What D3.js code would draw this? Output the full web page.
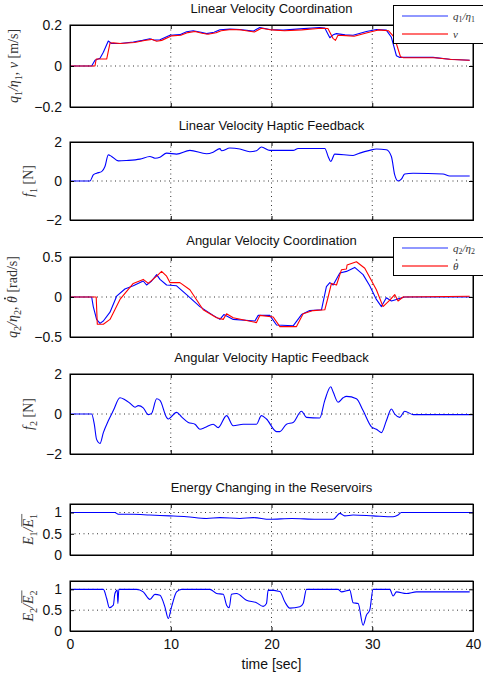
<!DOCTYPE html>
<html>
<head>
<meta charset="utf-8">
<script src="https://cdn.jsdelivr.net/npm/d3@7"></script>
<style>
  body { margin: 0; background: #fff; }
  svg { display: block; }
</style>
</head>
<body>
<svg id="chart" width="483" height="681"></svg>
<script>
// time samples [sec, value] for every trace
const timeTicks = [0, 10, 20, 30, 40];

const q1Eta1 = [[0,0],[2.15,0],[2.48,0.028],[2.98,0.038],[3.31,0.067],[3.8,0.122],[4.13,0.11],[4.96,0.11],[6.28,0.117],[7.2,0.125],[7.93,0.133],[8.4,0.126],[8.93,0.128],[9.92,0.15],[10.9,0.153],[11.57,0.167],[12.23,0.172],[13.0,0.165],[13.55,0.158],[14.3,0.165],[14.88,0.177],[15.87,0.18],[16.86,0.178],[18.18,0.17],[18.84,0.188],[19.83,0.178],[21.16,0.175],[22.81,0.181],[24.79,0.188],[25.29,0.185],[25.79,0.138],[26.12,0.152],[26.45,0.158],[27.3,0.152],[28.1,0.15],[29.42,0.168],[30.41,0.178],[31.4,0.175],[31.9,0.14],[32.4,0.05],[32.73,0.042],[36.03,0.042],[37.69,0.033],[39.67,0.028]];

const nu = [[0,0],[2.48,0],[2.6,0.034],[3.64,0.034],[3.97,0.112],[4.3,0.113],[5.0,0.11],[6.4,0.115],[7.4,0.124],[8.1,0.13],[8.6,0.121],[9.1,0.125],[10.1,0.147],[11.0,0.15],[11.7,0.163],[12.4,0.168],[13.1,0.16],[13.7,0.155],[14.5,0.162],[15.0,0.172],[16.0,0.178],[17.0,0.176],[18.3,0.166],[19.0,0.184],[20.0,0.176],[21.3,0.172],[23.0,0.176],[24.9,0.184],[25.6,0.183],[26.1,0.135],[26.35,0.125],[26.6,0.15],[27.4,0.148],[28.2,0.145],[29.6,0.163],[30.6,0.176],[31.6,0.172],[32.2,0.14],[32.8,0.045],[33.1,0.04],[36.2,0.04],[37.9,0.032],[39.67,0.028]];

const f1 = [[0,0],[1.98,0],[2.31,0.31],[2.64,0.4],[3.14,0.48],[3.47,0.74],[3.8,1.34],[4.13,1.26],[4.79,1.03],[5.62,1.05],[6.94,1.12],[7.93,1.26],[8.43,1.17],[8.93,1.22],[9.59,1.43],[10.58,1.38],[11.9,1.57],[13.55,1.4],[14.21,1.48],[14.88,1.66],[15.05,1.55],[15.87,1.69],[16.86,1.64],[17.85,1.5],[18.51,1.55],[19.0,1.74],[19.83,1.57],[21.16,1.57],[22.15,1.57],[22.64,1.67],[25.29,1.67],[25.62,1.26],[25.88,1.0],[26.28,1.38],[28.1,1.31],[28.76,1.43],[29.75,1.57],[30.41,1.64],[31.4,1.6],[31.9,1.26],[32.23,0.31],[32.56,0],[32.89,0.09],[33.22,0.36],[34.05,0.4],[37.02,0.36],[37.69,0.26],[39.67,0.26]];

const q2Eta2 = [[0,0],[2.15,0],[2.31,-0.12],[2.64,-0.28],[2.98,-0.33],[3.31,-0.3],[3.97,-0.19],[4.63,0.01],[5.45,0.1],[6.28,0.14],[7.27,0.2],[7.6,0.15],[8.1,0.2],[8.6,0.28],[8.93,0.22],[9.59,0.15],[10.58,0.14],[11.57,0.03],[12.89,-0.12],[14.21,-0.23],[14.88,-0.28],[15.27,-0.22],[16.2,-0.28],[18.35,-0.3],[18.68,-0.23],[19.83,-0.23],[20.5,-0.35],[22.15,-0.36],[22.98,-0.22],[23.8,-0.17],[24.96,-0.16],[25.45,0.13],[25.79,0.18],[26.12,0.15],[26.78,0.3],[27.44,0.32],[28.26,0.37],[29.09,0.28],[29.75,0.14],[30.41,-0.03],[30.91,-0.12],[31.4,-0.01],[31.9,-0.05],[32.4,-0.03],[33.22,0],[39.67,0]];

const thetaDot = [[0,0],[2.6,0],[2.71,-0.34],[3.31,-0.34],[3.97,-0.28],[4.96,-0.03],[5.62,0.07],[6.28,0.17],[7.27,0.22],[7.77,0.17],[8.6,0.26],[9.09,0.32],[9.59,0.26],[9.92,0.18],[10.91,0.18],[11.9,0.09],[13.22,-0.16],[14.55,-0.26],[15.21,-0.28],[15.54,-0.21],[16.2,-0.26],[18.51,-0.32],[18.84,-0.23],[20.17,-0.25],[20.83,-0.37],[22.48,-0.37],[23.14,-0.21],[24.13,-0.17],[25.29,-0.16],[25.62,0],[25.95,0.17],[26.45,0.15],[26.94,0.34],[27.44,0.35],[27.5,0.4],[28.43,0.44],[29.26,0.36],[30.41,0.09],[31.07,-0.12],[31.74,-0.04],[32.23,0.03],[32.56,-0.05],[33.06,0],[39.67,0.01]];

const f2 = [[0,0],[2.15,0],[2.41,-0.51],[2.64,-1.27],[2.98,-1.47],[3.31,-0.93],[3.8,-0.34],[4.3,0.17],[4.96,0.81],[5.45,0.71],[5.95,0.54],[6.45,0.34],[6.78,0.42],[7.27,0.31],[7.77,-0.03],[8.1,0.03],[8.6,0.76],[8.93,0.68],[9.59,-0.17],[9.75,-0.25],[10.58,0.08],[11.07,-0.14],[11.74,-0.42],[12.4,-0.51],[12.89,-0.76],[13.39,-0.68],[14.21,-0.51],[14.71,-0.68],[15.54,-0.08],[16.2,-0.59],[17.19,-0.51],[18.51,-0.51],[19.0,-0.08],[19.5,-0.25],[20.5,-0.88],[20.83,-0.88],[21.49,-0.51],[22.15,-0.42],[22.98,0.14],[23.47,-0.17],[24.79,-0.2],[25.29,0.68],[25.88,1.36],[26.12,1.1],[26.61,0.59],[27.11,0.81],[27.44,0.88],[28.43,0.76],[29.09,0.17],[29.92,-0.64],[30.41,-0.76],[30.91,-0.93],[31.4,-0.34],[31.9,0.25],[32.23,0],[32.73,-0.17],[33.22,0.14],[34.05,-0.03],[40,-0.03]];

const e1Ratio = [[0,1],[4.46,1],[4.79,0.96],[6.28,0.96],[7.93,0.94],[9.92,0.92],[11.57,0.9],[13.55,0.86],[14.88,0.88],[16.86,0.86],[18.18,0.88],[19.83,0.84],[22.0,0.86],[24.46,0.84],[26.12,0.84],[26.78,0.98],[27.27,0.92],[28.1,0.94],[30.08,0.92],[32.07,0.9],[32.56,0.94],[32.89,1],[40,1]];

const e2Ratio = [[0,1],[3.31,1],[3.64,0.78],[3.9,0.56],[4.3,0.62],[4.46,0.9],[4.69,0.98],[4.75,0.66],[4.85,1],[6.61,1],[7.27,0.94],[7.93,0.76],[8.43,0.88],[8.93,0.86],[9.42,0.58],[9.75,0.3],[10.08,0.58],[10.58,0.94],[11.07,1],[13.88,1],[14.55,0.9],[15.21,0.88],[15.54,0.62],[15.8,0.56],[16.03,0.88],[16.53,0.9],[17.52,0.74],[18.51,0.68],[19.17,0.59],[19.5,0.66],[19.67,0.98],[20.83,0.95],[21.32,0.7],[21.82,0.55],[22.81,0.58],[23.14,0.66],[23.47,1],[26.61,1],[26.94,0.94],[27.77,0.98],[28.1,0.68],[28.6,0.66],[29.09,0.14],[29.42,0.38],[29.75,0.5],[30.08,1],[31.74,1],[32.07,0.84],[32.4,0.94],[33.39,0.9],[34.38,0.94],[39.67,0.94]];

const left = 70, right = 473;
const svg = d3.select("#chart");

const x = d3.scaleLinear().domain([0, 40]).range([left, right]);

// label pieces: [text, kind] with kind "i" italic, "r" roman, "s" subscript,
// "d" dotted italic, "o" overlined italic, "os" overlined subscript
const panels = [
  { title: "Linear Velocity Coordination", top: 25, bottom: 107, domain: [-0.2, 0.2], ticks: [-0.2, 0, 0.2],
    labelX: 18,
    label: [["q","i"],["1","s"],["/η","i"],["1","s"],[", ν ","i"],["[m/s]","r"]],
    series: [{ data: q1Eta1, color: "#0000ff" }, { data: nu, color: "#ff0000" }],
    legend: { y: 5, items: [[["q","i"],["1","s"],["/η","i"],["1","s"]], [["ν","i"]]] } },
  { title: "Linear Velocity Haptic Feedback", top: 142, bottom: 220, domain: [-2, 2], ticks: [-2, 0, 2],
    labelX: 33, smooth: true,
    label: [["f","i"],["1","s"],[" [N]","r"]],
    series: [{ data: f1, color: "#0000ff" }] },
  { title: "Angular Velocity Coordination", top: 257, bottom: 337, domain: [-0.5, 0.5], ticks: [-0.5, 0, 0.5],
    labelX: 17,
    label: [["q","i"],["2","s"],["/η","i"],["2","s"],[", ","i"],["θ","d"],[" ","i"],["[rad/s]","r"]],
    series: [{ data: q2Eta2, color: "#0000ff" }, { data: thetaDot, color: "#ff0000" }],
    legend: { y: 237, items: [[["q","i"],["2","s"],["/η","i"],["2","s"]], [["θ","d"]]] } },
  { title: "Angular Velocity Haptic Feedback", top: 374, bottom: 454, domain: [-2, 2], ticks: [-2, 0, 2],
    labelX: 33, smooth: true,
    label: [["f","i"],["2","s"],[" [N]","r"]],
    series: [{ data: f2, color: "#0000ff" }] },
  { title: "Energy Changing in the Reservoirs", top: 504, bottom: 555, domain: [0, 1.2], ticks: [0, 0.5, 1],
    labelX: 33, smooth: true,
    label: [["E","i"],["1","s"],["/","i"],["E","o"],["1","os"]],
    series: [{ data: e1Ratio, color: "#0000ff" }] },
  { title: null, top: 581, bottom: 631, domain: [0, 1.2], ticks: [0, 0.5, 1],
    labelX: 33, smooth: true,
    label: [["E","i"],["2","s"],["/","i"],["E","o"],["2","os"]],
    series: [{ data: e2Ratio, color: "#0000ff" }], xLabels: true }
];

const fmt = (v) => (v < 0 ? "\u2212" : "") + Math.abs(v);

// writes math-like text into a <text> inside group g, then adds dots and overlines
function mathText(g, text, parts, size) {
  let shifted = false;
  const marks = [];
  parts.forEach(([t, kind]) => {
    const sp = text.append("tspan").text(t);
    const sub = kind === "s" || kind === "os";
    if (sub && !shifted) { sp.attr("dy", size * 0.25); shifted = true; }
    else if (!sub && shifted) { sp.attr("dy", -size * 0.25); shifted = false; }
    sp.attr("font-size", sub ? size * 0.72 : size)
      .attr("font-style", kind === "r" || sub ? "normal" : "italic");
    if (kind === "d" || kind === "o" || kind === "os") marks.push([sp.node(), kind]);
  });
  let ox0 = Infinity, ox1 = -Infinity, oy = null;
  marks.forEach(([node, kind]) => {
    const n = node.getNumberOfChars();
    const a = node.getStartPositionOfChar(0);
    const b = node.getEndPositionOfChar(n - 1);
    if (kind === "d") {
      g.append("circle").attr("cx", (a.x + b.x) / 2 + size * 0.08).attr("cy", a.y - size * 0.86)
        .attr("r", size * 0.075).attr("fill", text.attr("fill"));
    } else {
      ox0 = Math.min(ox0, a.x); ox1 = Math.max(ox1, b.x);
      if (kind === "o") oy = a.y - size * 0.8;
    }
  });
  if (oy !== null) {
    g.append("line").attr("x1", ox0 + 1).attr("x2", ox1).attr("y1", oy).attr("y2", oy)
      .attr("stroke", text.attr("fill")).attr("stroke-width", 0.8);
  }
}

panels.forEach((p) => {
  const y = d3.scaleLinear().domain(p.domain).range([p.bottom, p.top]);
  const g = svg.append("g");

  // dotted grid
  g.selectAll(".vgrid").data(timeTicks.slice(1, -1)).join("line")
    .attr("x1", (d) => x(d)).attr("x2", (d) => x(d))
    .attr("y1", p.top).attr("y2", p.bottom)
    .attr("stroke", "#000").attr("stroke-width", 0.8).attr("stroke-dasharray", "1,3.5");
  g.selectAll(".hgrid").data(p.ticks.filter((t) => y(t) > p.top + 1 && y(t) < p.bottom - 1)).join("line")
    .attr("x1", left).attr("x2", right)
    .attr("y1", (d) => y(d)).attr("y2", (d) => y(d))
    .attr("stroke", "#000").attr("stroke-width", 0.8).attr("stroke-dasharray", "1,3.5");

  // traces
  const line = d3.line().x((d) => x(d[0])).y((d) => y(d[1]))
    .curve(p.smooth ? d3.curveMonotoneX : d3.curveLinear);
  p.series.forEach((s) => {
    g.append("path").datum(s.data)
      .attr("d", line).attr("fill", "none")
      .attr("stroke", s.color).attr("stroke-width", 1.1)
      .attr("stroke-linejoin", "round");
  });

  // axes with inward ticks on all sides
  g.append("g").attr("transform", `translate(${left},0)`)
    .call(d3.axisLeft(y).tickValues(p.ticks).tickSize(-4).tickPadding(8).tickFormat(fmt));
  g.append("g").attr("transform", `translate(${right},0)`)
    .call(d3.axisRight(y).tickValues(p.ticks).tickSize(-4).tickFormat(""));
  g.append("g").attr("transform", `translate(0,${p.top})`)
    .call(d3.axisTop(x).tickValues(timeTicks).tickSize(-4).tickFormat(""));
  g.append("g").attr("transform", `translate(0,${p.bottom})`)
    .call(d3.axisBottom(x).tickValues(timeTicks).tickSize(-4).tickPadding(8)
      .tickFormat(p.xLabels ? (d) => d : ""));
  g.selectAll(".domain").attr("stroke", "#000");
  g.selectAll(".tick line").attr("stroke", "#000");
  g.selectAll(".tick text").attr("font-family", "Liberation Sans, Arial, sans-serif")
    .attr("font-size", 14).attr("fill", "#111");

  g.append("rect").attr("x", left).attr("y", p.top)
    .attr("width", right - left).attr("height", p.bottom - p.top)
    .attr("fill", "none").attr("stroke", "#000").attr("stroke-width", 1);

  if (p.title) {
    svg.append("text").attr("x", (left + right) / 2).attr("y", p.top - 12)
      .attr("text-anchor", "middle")
      .attr("font-family", "Liberation Sans, Arial, sans-serif")
      .attr("font-size", 13).attr("fill", "#111").text(p.title);
  }

  const labG = svg.append("g")
    .attr("transform", `translate(${p.labelX},${(p.top + p.bottom) / 2}) rotate(-90)`);
  const lab = labG.append("text")
    .attr("text-anchor", "middle")
    .attr("font-family", "Liberation Serif, DejaVu Serif, serif")
    .attr("fill", "#333");
  mathText(labG, lab, p.label, 14);

  if (p.legend) {
    const lg = svg.append("g");
    lg.append("rect").attr("x", 393.5).attr("y", p.legend.y + 0.5)
      .attr("width", 100).attr("height", 38)
      .attr("fill", "#fff").attr("stroke", "#000").attr("stroke-width", 1);
    p.legend.items.forEach((parts, i) => {
      const ly = p.legend.y + 11 + i * 18;
      lg.append("line").attr("x1", 402).attr("x2", 448).attr("y1", ly).attr("y2", ly)
        .attr("stroke", i === 0 ? "#2233ff" : "#ff6f6f").attr("stroke-width", i === 0 ? 1.2 : 1.8);
      const t = lg.append("text").attr("x", 453).attr("y", ly + 3.5)
        .attr("font-family", "Liberation Serif, DejaVu Serif, serif").attr("fill", "#333");
      mathText(lg, t, parts, 11);
    });
  }
});

svg.append("text").attr("x", (left + right) / 2).attr("y", 669)
  .attr("text-anchor", "middle")
  .attr("font-family", "Liberation Sans, Arial, sans-serif")
  .attr("font-size", 14).attr("fill", "#111").text("time [sec]");
</script>
</body>
</html>
